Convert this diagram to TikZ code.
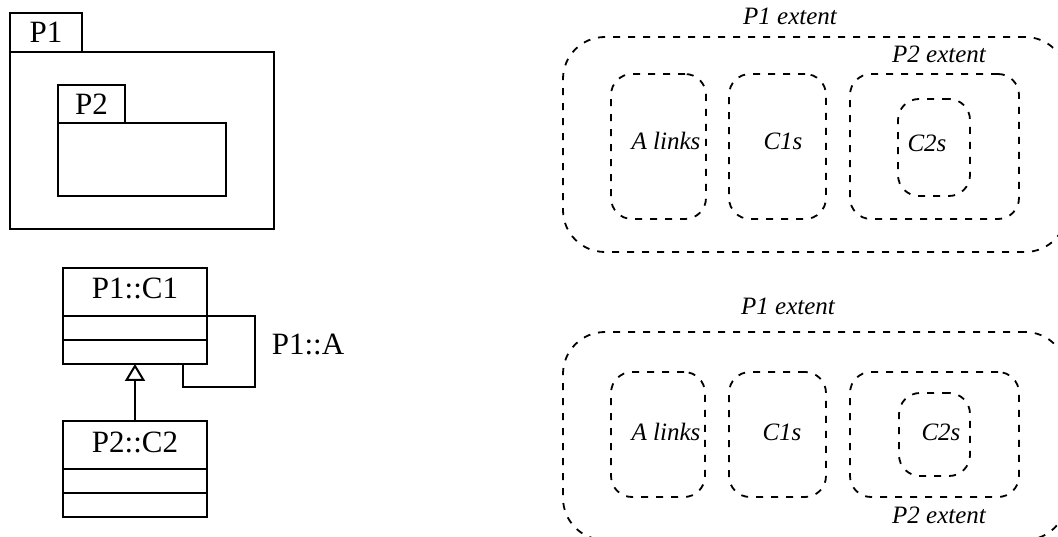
\documentclass[tikz,border=0pt]{standalone}
\usepackage{fontspec}
\setmainfont{Liberation Serif}
\usetikzlibrary{arrows.meta,calc}
\begin{document}
\begin{tikzpicture}[x=1pt,y=-1pt,
  solidbox/.style={draw, line width=2pt, inner sep=0pt, outer sep=0pt, font=\fontsize{31}{37}\selectfont},
  classhead/.style={solidbox, minimum width=144pt, minimum height=48pt, text height=20pt, text depth=6pt},
  classpart/.style={solidbox, minimum width=144pt, minimum height=24pt},
  extentbox/.style={draw, line width=1.8pt, dash pattern=on 7pt off 8pt, inner sep=0pt, outer sep=0pt, rounded corners=21pt},
  outerbox/.style={extentbox, rounded corners=42pt},
  ital/.style={font=\fontsize{25}{30}\selectfont\itshape, inner sep=0pt, anchor=base},
  upr/.style={font=\fontsize{31}{37}\selectfont, inner sep=0pt, anchor=base},
  solidline/.style={line width=2pt}]
\useasboundingbox (0,0) rectangle (1058,537);
\fill[white] (0,0) rectangle (1058,537);
\clip (0,0) rectangle (1058,537);

% Packages
\node[solidbox, minimum width=72pt, minimum height=39pt] (p1tab) at (46,32.5) {P1};
\node[solidbox, minimum width=264pt, minimum height=177pt] (p1body) at (142,140.5) {};
\node[solidbox, minimum width=67pt, minimum height=38pt] (p2tab) at (91.5,104) {P2};
\node[solidbox, minimum width=168pt, minimum height=73pt] (p2body) at (142,159.5) {};

% Classes
\node[classhead] (c1head) at (135,292) {P1::C1};
\node[classpart] (c1attr) at (135,328) {};
\node[classpart] (c1ops) at (135,352) {};
\node[classhead] (c2head) at (135,445) {P2::C2};
\node[classpart] (c2attr) at (135,481) {};
\node[classpart] (c2ops) at (135,505) {};

\coordinate (loopc) at (255,387);
\draw[solidline] (c1head.south east) -| (loopc) -| ([xshift=-24pt]c1ops.south east);
\node[upr] (assoc) at (308,355) {P1::A};
\draw[solidline, -{Triangle[open,length=17pt,width=20pt]}] (c2head.north) -- (c1ops.south);

% Extents, top
\node[outerbox, minimum width=504pt, minimum height=215pt] (outer1) at (815,144.5) {};
\node[extentbox, minimum width=95pt, minimum height=145pt] (al1) at (658.5,146.5) {};
\node[extentbox, minimum width=97pt, minimum height=145pt] (cs1) at (777.5,146.5) {};
\node[extentbox, minimum width=169pt, minimum height=145pt] (pe1) at (934.5,146.5) {};
\node[extentbox, minimum width=72pt, minimum height=97pt] (cc1) at (934,147.5) {};
\node[ital] (t1p1) at (790,25) {P1 extent};
\node[ital] (t1p2) at (939,63) {P2 extent};
\node[ital] (t1al) at (666,150) {A links};
\node[ital] (t1cs) at (783,150) {C1s};
\node[ital] (t1cc) at (927,152) {C2s};

% Extents, bottom
\node[outerbox, minimum width=504pt, minimum height=208pt] (outer2) at (815,436) {};
\node[extentbox, minimum width=94pt, minimum height=125pt] (al2) at (658,434.5) {};
\node[extentbox, minimum width=97pt, minimum height=125pt] (cs2) at (777.5,434.5) {};
\node[extentbox, minimum width=169pt, minimum height=125pt] (pe2) at (934.5,434.5) {};
\node[extentbox, minimum width=71pt, minimum height=83pt] (cc2) at (934.5,434.5) {};
\node[ital] (t2p1) at (788,315) {P1 extent};
\node[ital] (t2al) at (666,440) {A links};
\node[ital] (t2cs) at (782,440) {C1s};
\node[ital] (t2cc) at (941,440) {C2s};
\node[ital] (t2p2) at (939,523) {P2 extent};
\end{tikzpicture}
\end{document}
